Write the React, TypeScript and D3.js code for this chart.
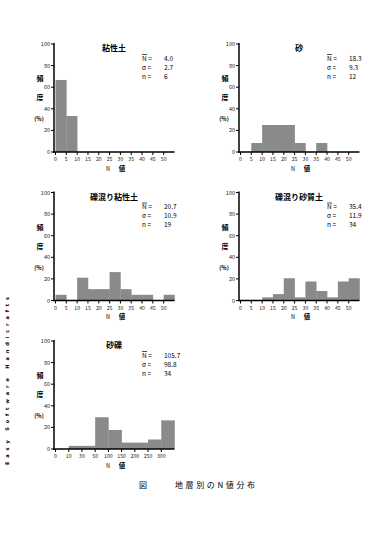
import React from "react";
import * as d3 from "d3";

// ---- data ----
const nBinLabels = ["0", "5", "10", "15", "20", "25", "30", "35", "40", "45", "50"];
const nBinCount = 11; // 0-5 ... 50-55
const clayFreq = [66.7, 33.3, 0, 0, 0, 0, 0, 0, 0, 0, 0];
const sandFreq = [0, 8.3, 25, 25, 25, 8.3, 0, 8.3, 0, 0, 0];
const gravelClayFreq = [5.3, 0, 21.1, 10.5, 10.5, 26.3, 10.5, 5.3, 5.3, 0, 5.3];
const gravelSandFreq = [0, 0, 2.9, 5.9, 20.6, 2.9, 17.6, 8.8, 2.9, 17.6, 20.6];
const gravelLabels = ["0", "10", "30", "50", "100", "150", "200", "250", "300"];
const gravelBinCount = 9;
const gravelFreq = [0, 2.9, 2.9, 29.4, 17.6, 5.9, 5.9, 8.8, 26.5];

const titles = ["粘性土", "砂", "礫混り粘性土", "礫混り砂質土", "砂礫"];
const meanValues = ["4.0", "18.3", "20.7", "35.4", "105.7"];
const sigmaValues = ["2.7", "9.3", "10.9", "11.9", "98.8"];
const countValues = ["6", "12", "19", "34", "34"];
const yTicks = [0, 20, 40, 60, 80, 100];

const FONT = "'Noto Sans CJK JP', 'Noto Sans', sans-serif";
const BAR = "#8a8a8a";

type PanelProps = {
  axisX: number;
  top: number;
  freq: number[];
  labels: string[];
  bins: number;
  title: string;
  mean: string;
  sigma: string;
  count: string;
};

function Panel({ axisX, top, freq, labels, bins, title, mean, sigma, count }: PanelProps) {
  const x = d3.scaleLinear().domain([0, bins]).range([axisX + 1.5, axisX + 120.5]);
  const y = d3.scaleLinear().domain([0, 100]).range([top + 108, top]);
  const y0 = y(0);
  const sx = axisX + 88;
  const vx = axisX + 110;
  return (
    <g fontFamily={FONT}>
      {freq.map((v, i) =>
        v > 0 ? (
          <rect
            key={i}
            x={x(i)}
            y={y(v)}
            width={x(i + 1) - x(i) + 0.3}
            height={y0 - y(v)}
            fill={BAR}
          />
        ) : null
      )}
      <line x1={axisX} x2={axisX} y1={top - 1} y2={y0 + 0.75} stroke="#000" strokeWidth={1.5} />
      <line x1={axisX - 0.75} x2={x(bins)} y1={y0} y2={y0} stroke="#000" strokeWidth={1.5} />
      {yTicks.map((t) => (
        <g key={t}>
          <line x1={axisX - 3} x2={axisX} y1={y(t)} y2={y(t)} stroke="#000" strokeWidth={1} />
          <text x={axisX - 4} y={y(t) + 2} fontSize={5.5} textAnchor="end" fill="#222">
            {t}
          </text>
        </g>
      ))}
      {labels.map((l, i) => (
        <g key={l}>
          <line x1={x(i)} x2={x(i)} y1={y0} y2={y0 + 3} stroke="#000" strokeWidth={1} />
          <text x={x(i)} y={y0 + 9} fontSize={5.2} textAnchor="middle" fill="#222">
            {l}
          </text>
        </g>
      ))}
      <text x={axisX - 14} y={top + 37} fontSize={7} fontWeight="bold" textAnchor="middle">頻</text>
      <text x={axisX - 14} y={top + 56} fontSize={7} fontWeight="bold" textAnchor="middle">度</text>
      <text x={axisX - 15} y={top + 77} fontSize={5.5} fontWeight="bold" textAnchor="middle">(%)</text>
      <text x={axisX + 54} y={y0 + 18.5} fontSize={5.5} textAnchor="middle">N</text>
      <text x={axisX + 68} y={y0 + 18.5} fontSize={6.5} fontWeight="bold" textAnchor="middle">値</text>
      <text x={axisX + 60} y={top + 7} fontSize={8} fontWeight="bold" textAnchor="middle">{title}</text>
      <line x1={sx} x2={sx + 5} y1={top + 10.5} y2={top + 10.5} stroke="#000" strokeWidth={0.7} />
      <text x={sx} y={top + 16.5} fontSize={6.5}>N =</text>
      <text x={vx} y={top + 16.5} fontSize={6.5}>{mean}</text>
      <text x={sx} y={top + 25.5} fontSize={6.5}>σ =</text>
      <text x={vx} y={top + 25.5} fontSize={6.5}>{sigma}</text>
      <text x={sx} y={top + 34.5} fontSize={6.5}>n =</text>
      <text x={vx} y={top + 34.5} fontSize={6.5}>{count}</text>
    </g>
  );
}

export default function App() {
  const cols = [54, 239];
  const rows = [44, 192.5, 341];
  return (
    <svg
      width={382}
      height={536}
      style={{ position: "absolute", left: 0, top: 0, background: "#fff" }}
    >
      <rect width={382} height={536} fill="#fff" />
      <Panel axisX={cols[0]} top={rows[0]} freq={clayFreq} labels={nBinLabels} bins={nBinCount}
        title={titles[0]} mean={meanValues[0]} sigma={sigmaValues[0]} count={countValues[0]} />
      <Panel axisX={cols[1]} top={rows[0]} freq={sandFreq} labels={nBinLabels} bins={nBinCount}
        title={titles[1]} mean={meanValues[1]} sigma={sigmaValues[1]} count={countValues[1]} />
      <Panel axisX={cols[0]} top={rows[1]} freq={gravelClayFreq} labels={nBinLabels} bins={nBinCount}
        title={titles[2]} mean={meanValues[2]} sigma={sigmaValues[2]} count={countValues[2]} />
      <Panel axisX={cols[1]} top={rows[1]} freq={gravelSandFreq} labels={nBinLabels} bins={nBinCount}
        title={titles[3]} mean={meanValues[3]} sigma={sigmaValues[3]} count={countValues[3]} />
      <Panel axisX={cols[0]} top={rows[2]} freq={gravelFreq} labels={gravelLabels} bins={gravelBinCount}
        title={titles[4]} mean={meanValues[4]} sigma={sigmaValues[4]} count={countValues[4]} />
      <text x={143} y={488} fontSize={8} fontFamily={FONT} textAnchor="middle">図</text>
      <text x={175} y={488} fontSize={8} fontFamily={FONT} textLength={80} lengthAdjust="spacing">
        地層別のN値分布
      </text>
      <text
        transform="translate(9,381) rotate(-90)"
        fontSize={5}
        fontWeight="bold"
        fontFamily="'DejaVu Sans', sans-serif"
        textAnchor="middle"
        textLength={168}
        lengthAdjust="spacing"
      >
        Easy Software Handicrafts
      </text>
    </svg>
  );
}
